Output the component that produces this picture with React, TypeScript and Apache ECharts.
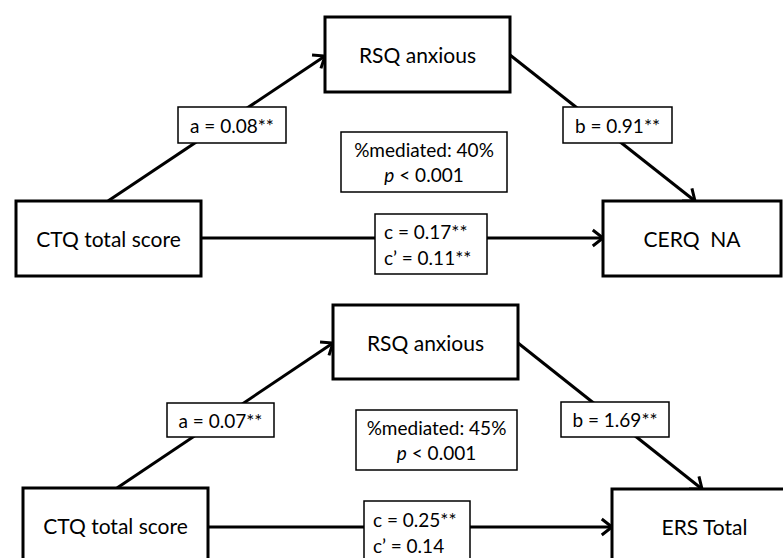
import React, { useEffect, useRef } from "react";
import * as echarts from "echarts";

// ---- content ----
const mediatorLabels = ["RSQ anxious", "RSQ anxious"];
const predictorLabels = ["CTQ total score", "CTQ total score"];
const outcomeLabels = ["CERQ  NA", "ERS Total"];
const aPaths = ["a = 0.08**", "a = 0.07**"];
const bPaths = ["b = 0.91**", "b = 1.69**"];
const cTotal = ["c = 0.17**", "c = 0.25**"];
const cDirect = ["c\u2019 = 0.11**", "c\u2019 = 0.14"];
const mediatedPct = ["40%", "45%"];
const pValues = ["< 0.001", "< 0.001"];

// ---- layout (positions in px) ----
type Box = [number, number, number, number];
type Pt = [number, number];
interface PanelLayout {
  med: Box; x: Box; y: Box;
  a: [Pt, Pt]; b: [Pt, Pt]; c: [Pt, Pt];
  aBox: Box; bBox: Box; medBox: Box; cBox: Box;
}
const layout: PanelLayout[] = [
  {
    med: [325, 17, 185, 75], x: [16, 201, 185, 75], y: [603, 201, 178, 75],
    a: [[108, 201], [325, 56]], b: [[510, 55], [695, 201]], c: [[201, 238], [603, 238]],
    aBox: [178, 107, 108, 36], bBox: [563, 107, 109, 36], medBox: [341, 132, 166, 60], cBox: [375, 214, 112, 60],
  },
  {
    med: [333, 305, 185, 74], x: [23, 488, 185, 75], y: [612, 489, 185, 75],
    a: [[117, 488], [333, 343]], b: [[518, 343], [702, 489]], c: [[208, 527], [612, 527]],
    aBox: [167, 403, 107, 34], bBox: [561, 402, 108, 35], medBox: [356, 410, 161, 60], cBox: [364, 501, 106, 62],
  },
];

const FONT = "Lato, 'Open Sans', sans-serif";

function rect(b: Box, lw: number) {
  return {
    type: "rect",
    shape: { x: b[0], y: b[1], width: b[2], height: b[3] },
    style: { fill: "#fff", stroke: "#000", lineWidth: lw },
  };
}
function text(b: Box, t: string, size: number, extra: any = {}) {
  return {
    type: "text",
    x: b[0] + b[2] / 2,
    y: b[1] + b[3] / 2,
    style: {
      text: t, fill: "#000", fontSize: size, fontFamily: FONT,
      align: "center", verticalAlign: "middle", ...extra,
    },
  };
}
function leftText(b: Box, t: string, size: number, pad: number, extra: any = {}) {
  return {
    type: "text",
    x: b[0] + pad,
    y: b[1] + b[3] / 2,
    style: {
      text: t, fill: "#000", fontSize: size, fontFamily: FONT,
      align: "left", verticalAlign: "middle", ...extra,
    },
  };
}
function arrow(p: [Pt, Pt], withHead: boolean) {
  const [s, e] = p;
  const els: any[] = [{
    type: "line",
    shape: { x1: s[0], y1: s[1], x2: e[0], y2: e[1] },
    style: { stroke: "#000", lineWidth: 3 },
  }];
  if (withHead) {
    const ang = Math.atan2(e[1] - s[1], e[0] - s[0]);
    const L = 13, th = (38 * Math.PI) / 180;
    const p1: Pt = [e[0] - L * Math.cos(ang - th), e[1] - L * Math.sin(ang - th)];
    const p2: Pt = [e[0] - L * Math.cos(ang + th), e[1] - L * Math.sin(ang + th)];
    els.push({
      type: "polyline",
      shape: { points: [p1, [e[0], e[1]], p2] },
      style: { stroke: "#000", lineWidth: 3, fill: "none", lineJoin: "miter" },
    });
  }
  return els;
}

function buildGraphic() {
  const els: any[] = [];
  layout.forEach((L, i) => {
    els.push(...arrow(L.a, true), ...arrow(L.b, true), ...arrow(L.c, true));
    els.push(rect(L.med, 3), text(L.med, mediatorLabels[i], 21));
    els.push(rect(L.x, 3), text(L.x, predictorLabels[i], 21));
    els.push(rect(L.y, 3), text(L.y, outcomeLabels[i], 21));
    els.push(rect(L.aBox, 1.5), text(L.aBox, aPaths[i], 19));
    els.push(rect(L.bBox, 1.5), text(L.bBox, bPaths[i], 19));
    els.push(rect(L.medBox, 1.5), text(L.medBox, `%mediated: ${mediatedPct[i]}\n{i|p} ${pValues[i]}`, 19, {
      lineHeight: 25,
      rich: { i: { fontStyle: "italic", fontSize: 19, fontFamily: FONT, lineHeight: 25, fill: "#000" } },
    }));
    els.push(rect(L.cBox, 1.5), leftText(L.cBox, `${cTotal[i]}\n${cDirect[i]}`, 19, 9, { lineHeight: 26 }));
  });
  return els;
}

export default function App() {
  const ref = useRef<HTMLDivElement>(null);
  useEffect(() => {
    if (!ref.current) return;
    const chart = echarts.init(ref.current, undefined, { renderer: "svg" });
    chart.setOption({
      animation: false,
      backgroundColor: "#fff",
      graphic: { elements: buildGraphic() },
    });
    return () => chart.dispose();
  }, []);
  return (
    <div
      ref={ref}
      style={{ position: "absolute", left: 0, top: 0, width: 783, height: 558, background: "#fff" }}
    />
  );
}
